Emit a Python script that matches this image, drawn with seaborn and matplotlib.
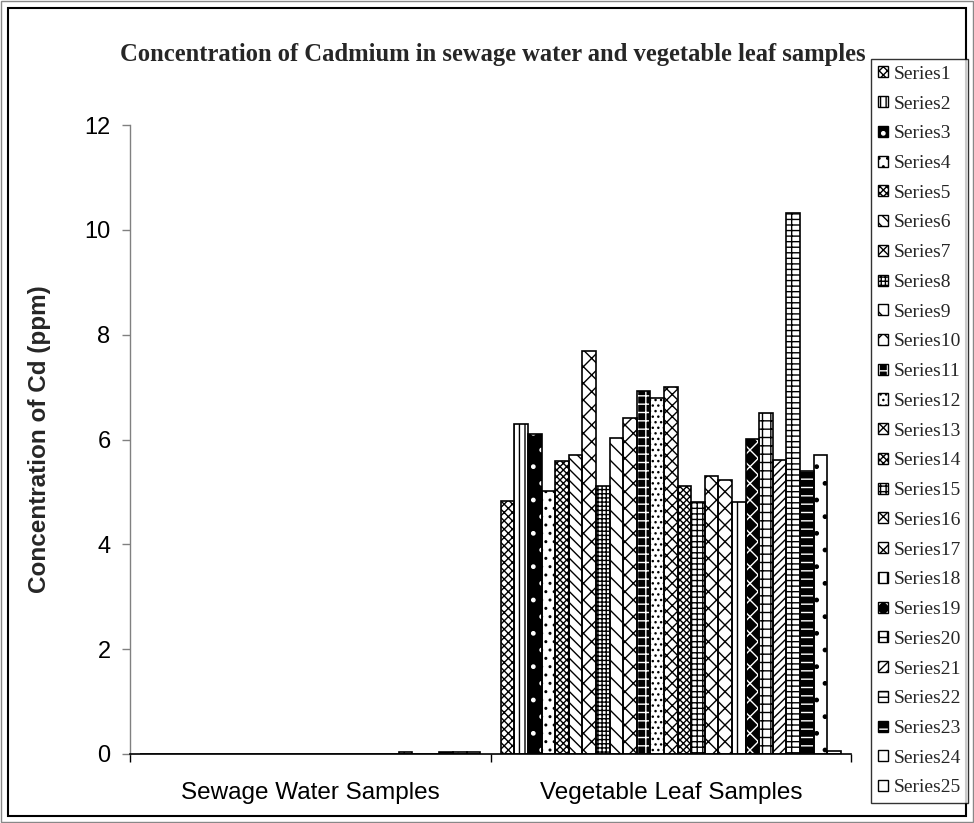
import matplotlib
matplotlib.use("Agg")
import matplotlib.pyplot as plt
import seaborn as sns
import pandas as pd
from matplotlib.patches import Patch, Rectangle
from matplotlib.legend_handler import HandlerTuple

# ---------------- data ----------------
categories = ["Sewage Water Samples", "Vegetable Leaf Samples"]
series_names = ["Series%d" % i for i in range(1, 26)]
sewage_values = [0, 0, 0, 0, 0, 0, 0, 0, 0, 0, 0, 0, 0, 0, 0, 0, 0, 0, 0,
                 0.03, 0, 0, 0.04, 0.04, 0.04]
leaf_values = [4.82, 6.29, 6.10, 5.02, 5.59, 5.70, 7.69, 5.11, 6.02, 6.41,
               6.92, 6.79, 7.00, 5.11, 4.81, 5.31, 5.22, 4.81, 6.01, 6.50,
               5.60, 10.33, 5.40, 5.71, 0.05]
y_ticks = [0, 2, 4, 6, 8, 10, 12]
title = "Concentration of Cadmium in sewage water and vegetable leaf samples"
y_label = "Concentration of Cd (ppm)"

# ---------------- styles (face, hatch, hatch colour) ----------------
patterns = [
    ("white", "xxxx", "black"),   # 1
    ("white", "|||", "black"),    # 2
    ("black", ".", "white"),      # 3
    ("white", "..", "black"),     # 4
    ("white", "xxxxx", "black"),  # 5
    ("white", "\\\\\\", "black"), # 6
    ("white", "xx", "black"),     # 7
    ("white", "++++", "black"),   # 8
    ("white", "\\\\", "black"),   # 9
    ("white", "xx", "black"),     # 10
    ("black", "++", "white"),     # 11
    ("white", "...", "black"),    # 12
    ("white", "xxx", "black"),    # 13
    ("white", "xxxxx", "black"),  # 14
    ("white", "+++", "black"),    # 15
    ("white", "xx", "black"),     # 16
    ("white", "xx", "black"),     # 17
    ("white", "||", "black"),     # 18
    ("black", "xx", "white"),     # 19
    ("white", "++", "black"),     # 20
    ("white", "////", "black"),   # 21
    ("white", "--+", "black"),    # 22
    ("black", "--", "white"),     # 23
    ("white", ".", "black"),      # 24
    ("white", "", "black"),       # 25
]

df = pd.DataFrame({
    "category": [categories[0]] * 25 + [categories[1]] * 25,
    "series": series_names * 2,
    "value": sewage_values + leaf_values,
})

sns.set_theme(style="white")
plt.rcParams["hatch.linewidth"] = 1.0
plt.rcParams["font.family"] = ["Liberation Sans", "DejaVu Sans"]

W, H = 974, 823
fig = plt.figure(figsize=(W / 100, H / 100), dpi=100)
ax = fig.add_axes([130 / W, 1 - 754 / H, (851 - 130) / W, (754 - 125) / H])

sns.barplot(data=df, x="category", y="value", hue="series",
            order=categories, hue_order=series_names,
            palette=["white"] * 25, saturation=1, edgecolor="black",
            linewidth=1.0, width=25 / 26.5, gap=0, errorbar=None,
            legend=False, ax=ax)

for i, cont in enumerate(ax.containers):
    face, hatch, hcol = patterns[i]
    for p in cont.patches:
        p.set_facecolor(face)
        p.set_hatch(hatch)
        p.set_edgecolor(hcol)
        p.set_linewidth(0)
        ax.add_patch(Rectangle((p.get_x(), p.get_y()), p.get_width(), p.get_height(),
                               fill=False, edgecolor="black", linewidth=1.2,
                               zorder=p.get_zorder() + 0.1))

ax.set_xlim(-0.5, 1.5)
ax.set_ylim(0, 12)
ax.set_yticks(y_ticks)
ax.set_yticklabels([str(t) for t in y_ticks], fontsize=17, color="black")
ax.set_xticks([0, 1])
ax.set_xticklabels(categories, fontsize=17.5, color="black")
ax.set_xticks([-0.5, 0.5, 1.5], minor=True)
ax.tick_params(axis="x", which="major", length=0, pad=20)
ax.tick_params(axis="x", which="minor", length=6, width=1, direction="out", color="black", bottom=True)
ax.tick_params(axis="y", which="major", length=6, width=1, direction="out", color="#808080", left=True, pad=8)
ax.set_xlabel("")
ax.set_ylabel(y_label, fontsize=17.5, fontweight="bold", labelpad=24)

for s in ["top", "right"]:
    ax.spines[s].set_visible(False)
ax.spines["left"].set_color("#808080")
ax.spines["left"].set_linewidth(1.0)
ax.spines["bottom"].set_color("black")
ax.spines["bottom"].set_linewidth(1.2)

fig.text(493 / W, 1 - 55 / H, title, ha="center", va="center",
         fontsize=17.7, fontweight="bold", family=["Liberation Serif", "DejaVu Serif"])

handles = []
for face, hatch, hcol in patterns:
    handles.append((Patch(facecolor=face, edgecolor=hcol, hatch=hatch, linewidth=0),
                    Patch(facecolor="none", edgecolor="black", linewidth=1.0)))
leg = fig.legend(handles, series_names, loc="upper left",
                 bbox_to_anchor=(871 / W, 1 - 59 / H), borderaxespad=0,
                 frameon=True, fancybox=False, edgecolor="black",
                 handler_map={tuple: HandlerTuple(ndivide=1)},
                 handlelength=0.5, handleheight=0.5, handletextpad=0.3,
                 labelspacing=0.655, borderpad=0.35,
                 prop={"family": ["Liberation Serif", "DejaVu Serif"], "size": 14})
leg.get_frame().set_linewidth(1.0)

fig.patches.append(Rectangle((8 / W, 1 - 816 / H), (966 - 8) / W, (816 - 8) / H,
                             transform=fig.transFigure, fill=False,
                             edgecolor="black", linewidth=1.5))
fig.patches.append(Rectangle((1 / W, 1 / H), (W - 2) / W, (H - 2) / H,
                             transform=fig.transFigure, fill=False,
                             edgecolor="#888888", linewidth=1.0))

fig.savefig("out.png", dpi=100)
